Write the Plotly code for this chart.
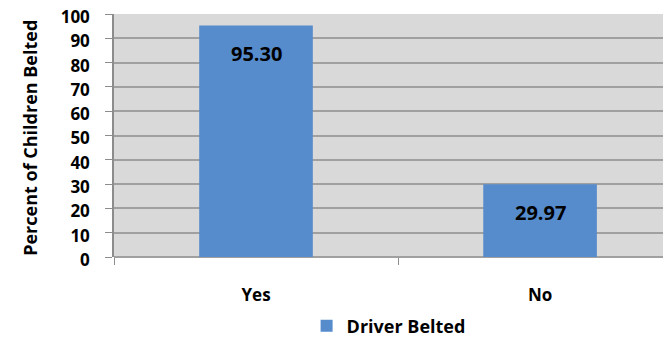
import plotly.graph_objects as go

categories = ["Yes", "No"]
values = [95.30, 29.97]
labels = ["95.30", "29.97"]
series_name = "Driver Belted"
y_title = "Percent of Children Belted"
yticks = list(range(0, 101, 10))

FONT = "Open Sans"
xpos = list(range(len(categories)))
fig = go.Figure()
fig.add_trace(go.Bar(
    x=xpos, y=values, name=series_name,
    marker=dict(color="#568BCC", line=dict(width=0)),
    width=0.4,
    showlegend=True,
))
for xv, yv, t in zip(xpos, values, labels):
    fig.add_annotation(x=xv, y=yv, text=t, showarrow=False, yanchor="middle", yshift=-28,
                       font=dict(family=FONT, size=20, color="black", weight="bold"))
fig.add_annotation(x=-0.151, y=0.49, xref="paper", yref="paper", text=y_title, textangle=-90,
                   showarrow=False, xanchor="center", yanchor="middle",
                   font=dict(family=FONT, size=18, color="black", weight="bold"))
# page body has an 8px margin, so the figure is sized/offset accordingly
fig.update_layout(
    width=663, height=331,
    margin=dict(l=106, r=0, t=6, b=82, autoexpand=False),
    paper_bgcolor="white", plot_bgcolor="#D9D9D9",
    font=dict(family=FONT, color="black"),
    showlegend=True,
    legend=dict(orientation="h", x=0.493, xanchor="center", y=-0.284, yanchor="middle",
                font=dict(family=FONT, size=18, weight="bold"),
                itemwidth=30),
)
fig.update_xaxes(
    range=[-0.5, 1.461], automargin=False,
    tickmode="array", tickvals=xpos, ticktext=categories,
    ticks="", ticklabelstandoff=26,
    tickfont=dict(family=FONT, size=17, weight="bold"),
    showgrid=False, zeroline=False,
    showline=False,
    minor=dict(ticks="outside", tick0=0.5, dtick=1, ticklen=7, tickcolor="#8C8C8C", showgrid=False),
)
fig.update_yaxes(
    range=[0, 100], tickmode="array", tickvals=yticks, automargin=False,
    ticks="outside", ticklen=7, tickcolor="#8C8C8C", ticklabelstandoff=12,
    ticklabelshift=3, ticklabeloverflow="allow",
    tickfont=dict(family=FONT, size=17, weight="bold"),
    showgrid=True, gridcolor="#A0A0A0", gridwidth=1.5,
    showline=True, linecolor="#8C8C8C", linewidth=1.5,
    zeroline=True, zerolinecolor="#A0A0A0",
)
fig.write_html("out.html")
